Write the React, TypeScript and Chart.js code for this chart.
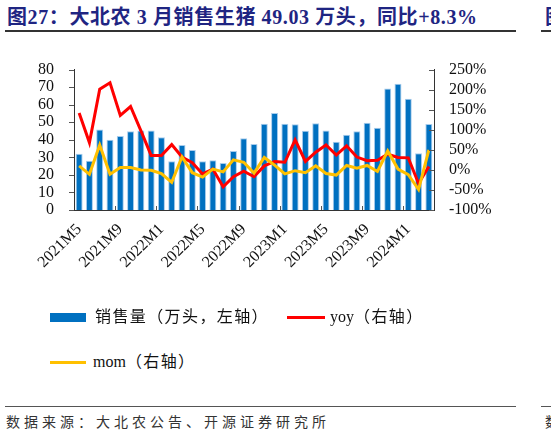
import React, { useEffect, useRef } from "react";
import { Chart, registerables } from "chart.js";

Chart.register(...registerables);

const MONTHS = [
  "2021M5", "2021M6", "2021M7", "2021M8", "2021M9", "2021M10", "2021M11", "2021M12",
  "2022M1", "2022M2", "2022M3", "2022M4", "2022M5", "2022M6", "2022M7", "2022M8",
  "2022M9", "2022M10", "2022M11", "2022M12", "2023M1", "2023M2", "2023M3", "2023M4",
  "2023M5", "2023M6", "2023M7", "2023M8", "2023M9", "2023M10", "2023M11", "2023M12",
  "2024M1", "2024M2", "2024M3",
];

const SALES = [
  32.0, 28.1, 45.8, 40.0, 42.2, 44.9, 45.3, 45.3, 41.5, 27.8, 37.1, 34.2,
  27.8, 28.3, 26.8, 33.6, 40.9, 37.6, 49.1, 55.2, 49.1, 48.8, 45.1, 49.5,
  45.3, 38.9, 42.9, 44.9, 49.7, 46.9, 69.2, 72.0, 63.4, 32.3, 49.03,
];

const YOY = [
  142, 68, 201, 217, 136, 158, 98, 36, 36, 63, 32, 18,
  -10, 2, -42, -17, -3, -17, 10, 21, 19, 75, 21, 44,
  62, 37, 60, 32, 23, 24, 39, 31, 30, -34, 8.3,
];

const MOM = [
  10, -11, 62, -11, 6, 6, 0, -1, -9, -31, 32, -7,
  -18, 2, -5, 25, 19, -8, 31, 12, -10, -2, -7, 10,
  -9, -13, 11, 4, 11, -4, 47, 2, -12, -49, 50,
];

const LABEL_STEP = 4;
const LEFT_TICKS = { min: 0, max: 80, step: 10 };
const RIGHT_TICKS = { min: -100, max: 250, step: 50 };

const SERIES_NAMES = {
  sales: ["", "销售量（万头，左轴）"],
  yoy: ["yoy", "（右轴）"],
  mom: ["mom", "（右轴）"],
};

const COLORS = {
  bar: "#0070C0",
  barBorder: "#A8CCEC",
  yoy: "#FF0000",
  mom: "#FFC000",
  axis: "#333333",
  title: "#1F2582",
};

const FONT_FAMILY = '"Liberation Serif", "Noto Sans CJK SC", serif';

const tickMarks = {
  id: "tickMarks",
  afterDraw(chart: any) {
    const { ctx } = chart;
    const x = chart.scales.x;
    const y = chart.scales.y;
    const y1 = chart.scales.y1;
    ctx.save();
    ctx.strokeStyle = "#555";
    ctx.lineWidth = 1;
    ctx.beginPath();
    y.ticks.forEach((_t: any, i: number) => {
      const py = Math.round(y.getPixelForTick(i)) + 0.5;
      ctx.moveTo(y.right - 5, py);
      ctx.lineTo(y.right, py);
    });
    y1.ticks.forEach((_t: any, i: number) => {
      const py = Math.round(y1.getPixelForTick(i)) + 0.5;
      ctx.moveTo(y1.left - 5, py);
      ctx.lineTo(y1.left, py);
    });
    for (let i = LABEL_STEP; i < MONTHS.length; i += LABEL_STEP) {
      const px = Math.round((x.getPixelForValue(i - 1) + x.getPixelForValue(i)) / 2) + 0.5;
      ctx.moveTo(px, x.top);
      ctx.lineTo(px, x.top - 4);
    }
    ctx.stroke();
    ctx.restore();
  },
};

function ChartCanvas() {
  const ref = useRef<HTMLCanvasElement | null>(null);
  useEffect(() => {
    if (!ref.current) return;
    const chart = new Chart(ref.current, {
      type: "bar",
      data: {
        labels: MONTHS,
        datasets: [
          {
            type: "line",
            label: SERIES_NAMES.mom.join(""),
            data: MOM,
            yAxisID: "y1",
            borderColor: COLORS.mom,
            backgroundColor: COLORS.mom,
            borderWidth: 3,
            pointRadius: 0,
            tension: 0,
            order: 0,
          },
          {
            type: "line",
            label: SERIES_NAMES.yoy.join(""),
            data: YOY,
            yAxisID: "y1",
            borderColor: COLORS.yoy,
            backgroundColor: COLORS.yoy,
            borderWidth: 3,
            pointRadius: 0,
            tension: 0,
            order: 1,
          },
          {
            type: "bar",
            label: SERIES_NAMES.sales.join(""),
            data: SALES,
            yAxisID: "y",
            backgroundColor: COLORS.bar,
            borderColor: COLORS.barBorder,
            borderWidth: 1,
            barPercentage: 0.68,
            categoryPercentage: 1,
            order: 2,
          },
        ],
      },
      options: {
        animation: false,
        responsive: false,
        maintainAspectRatio: false,
        layout: { padding: { top: 24, left: 0, right: 0, bottom: 0 } },
        plugins: {
          legend: { display: false },
          tooltip: { enabled: false },
          title: { display: false },
        },
        scales: {
          x: {
            grid: { display: false, drawTicks: false },
            border: { display: true, color: COLORS.axis, width: 1 },
            ticks: {
              autoSkip: false,
              minRotation: 45,
              maxRotation: 45,
              padding: 10,
              color: "#111",
              font: { family: FONT_FAMILY, size: 16 },
              callback: (_v: any, i: number) => (i % LABEL_STEP === 0 ? MONTHS[i] : ""),
            },
            afterFit: (s: any) => {
              s.height = 100;
            },
          },
          y: {
            position: "left",
            min: LEFT_TICKS.min,
            max: LEFT_TICKS.max,
            grid: { display: false, drawTicks: false },
            border: { display: true, color: COLORS.axis, width: 1 },
            ticks: {
              autoSkip: false,
              stepSize: LEFT_TICKS.step,
              padding: 20,
              color: "#111",
              font: { family: FONT_FAMILY, size: 16 },
            },
            afterFit: (s: any) => {
              s.width = 74;
            },
          },
          y1: {
            position: "right",
            min: RIGHT_TICKS.min,
            max: RIGHT_TICKS.max,
            grid: { display: false, drawTicks: false },
            border: { display: true, color: COLORS.axis, width: 1 },
            ticks: {
              autoSkip: false,
              stepSize: RIGHT_TICKS.step,
              padding: 15,
              color: "#111",
              font: { family: FONT_FAMILY, size: 16 },
              callback: (v: any) => `${v}%`,
            },
            afterFit: (s: any) => {
              s.width = 117;
            },
          },
        },
      },
      plugins: [tickMarks],
    });
    return () => chart.destroy();
  }, []);
  return (
    <canvas
      ref={ref}
      width={551}
      height={270}
      style={{ position: "absolute", left: 0, top: 40, width: 551, height: 270 }}
    />
  );
}

function LegendLabel({ parts, left, top }: { parts: string[]; left: number; top: number }) {
  return (
    <div
      style={{
        position: "absolute",
        left,
        top,
        fontFamily: FONT_FAMILY,
        fontSize: 16,
        color: "#111",
        lineHeight: "20px",
        whiteSpace: "nowrap",
      }}
    >
      <span>{parts[0]}</span>
      <span style={{ letterSpacing: 1.4 }}>{parts[1]}</span>
    </div>
  );
}

export default function App() {
  return (
    <div
      style={{
        position: "fixed",
        left: 0,
        top: 0,
        width: 551,
        height: 436,
        background: "#fff",
        overflow: "hidden",
      }}
    >
      <div
        style={{
          position: "absolute",
          left: 7,
          top: 4,
          fontFamily: FONT_FAMILY,
          fontWeight: "bold",
          fontSize: 20,
          letterSpacing: 0.6,
          color: COLORS.title,
          whiteSpace: "nowrap",
          lineHeight: "26px",
        }}
      >
        图27：大北农 3 月销售生猪 49.03 万头，同比+8.3%
      </div>
      <div
        style={{
          position: "absolute",
          left: 545,
          top: 4,
          fontFamily: FONT_FAMILY,
          fontWeight: "bold",
          fontSize: 20,
          color: COLORS.title,
          lineHeight: "26px",
          whiteSpace: "nowrap",
        }}
      >
        图
      </div>
      <div style={{ position: "absolute", left: 5, top: 30, width: 511, height: 1.5, background: "#333" }} />
      <div style={{ position: "absolute", left: 541, top: 30, width: 12, height: 1.5, background: "#333" }} />

      <ChartCanvas />

      <div style={{ position: "absolute", left: 50, top: 313, width: 36, height: 9, background: COLORS.bar }} />
      <LegendLabel parts={SERIES_NAMES.sales} left={95} top={307} />
      <div style={{ position: "absolute", left: 287, top: 316, width: 38, height: 3, background: COLORS.yoy }} />
      <LegendLabel parts={SERIES_NAMES.yoy} left={330} top={307} />
      <div style={{ position: "absolute", left: 50, top: 361, width: 36, height: 3, background: COLORS.mom }} />
      <LegendLabel parts={SERIES_NAMES.mom} left={93} top={352} />

      <div style={{ position: "absolute", left: 5, top: 405.5, width: 511, height: 1.5, background: "#555" }} />
      <div style={{ position: "absolute", left: 541, top: 405.5, width: 12, height: 1.5, background: "#555" }} />
      <div
        style={{
          position: "absolute",
          left: 6,
          top: 413,
          fontFamily: FONT_FAMILY,
          fontSize: 14,
          letterSpacing: 4,
          color: "#333",
          lineHeight: "20px",
          whiteSpace: "nowrap",
        }}
      >
        数据来源：大北农公告、开源证券研究所
      </div>
      <div
        style={{
          position: "absolute",
          left: 545,
          top: 413,
          fontFamily: FONT_FAMILY,
          fontSize: 14,
          color: "#333",
          lineHeight: "20px",
        }}
      >
        数
      </div>
    </div>
  );
}
